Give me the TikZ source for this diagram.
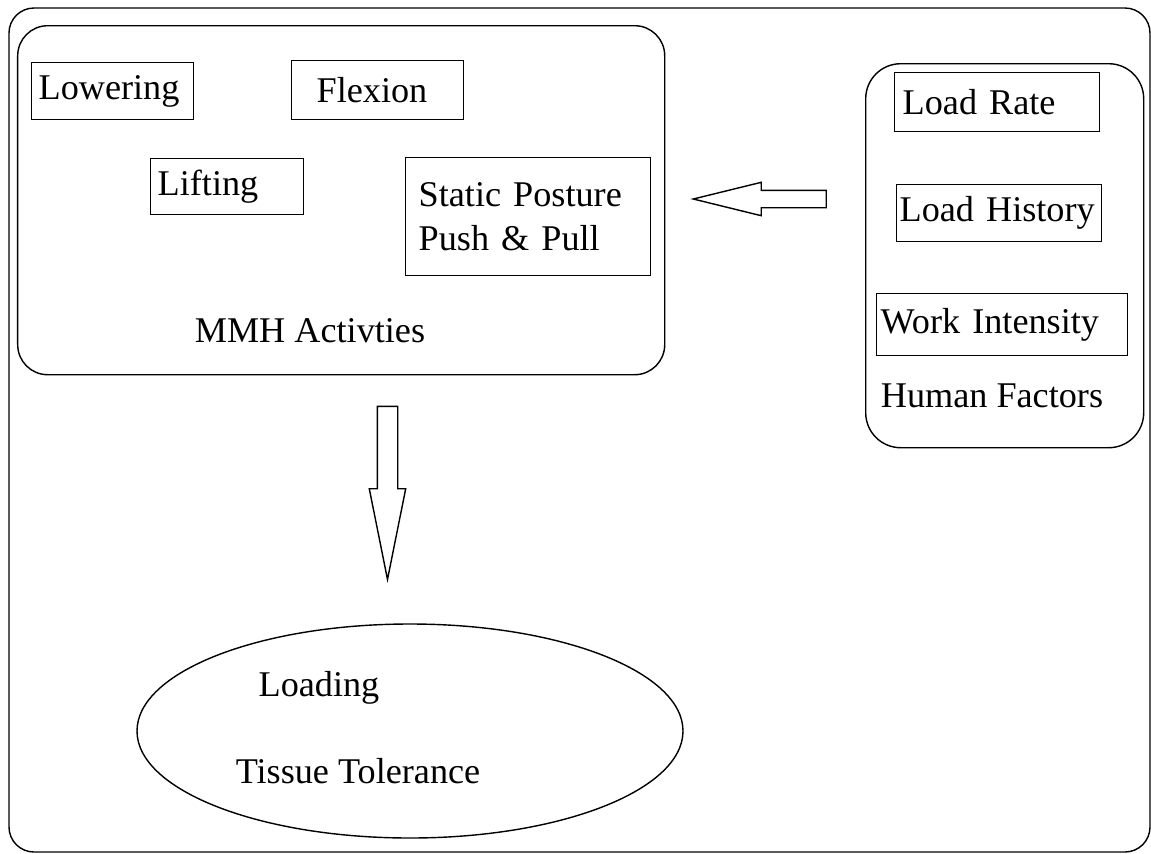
\documentclass[tikz,border=0pt]{standalone}
\usepackage{fontspec}
\setmainfont{Liberation Serif}
\usetikzlibrary{shapes,shapes.arrows,positioning}

\begin{document}
\begin{tikzpicture}[
  every node/.style={font=\fontsize{10.3}{12.4}\selectfont},
  box/.style={draw,rectangle,anchor=north west,align=left,inner ysep=0pt,minimum height=0.57cm},
  group/.style={draw,rectangle,anchor=north west},
  blockarrow/.style={draw,single arrow,single arrow head indent=0pt,single arrow head extend=0.08cm},
  ]
  \useasboundingbox (0,0) rectangle (11.51,-8.54);
  \draw[rounded corners=0.25cm] (0.09,-0.08) rectangle (11.50,-8.52);

  \node[group, rounded corners=0.3cm, minimum width=6.47cm, minimum height=3.49cm] (mmh) at (0.17,-0.25) {};
  \node[box, inner xsep=0.07cm, text width=1.48cm] (lower) at (0.31,-0.62) {Lowering};
  \node[box, inner xsep=0.25cm, text width=1.22cm, minimum height=0.59cm] (flex) at (2.91,-0.60) {Flexion};
  \node[box, inner xsep=0.07cm, text width=1.39cm, minimum height=0.56cm] (lift) at (1.50,-1.58) {Lifting};
  \node[box, inner xsep=0.13cm, text width=2.19cm, minimum height=1.18cm] (static) at (4.05,-1.57) {Static Posture\\Push \& Pull};
  \node (mmhlabel) at (3.10,-3.31) {MMH Activties};

  \node[group, rounded corners=0.35cm, minimum width=2.78cm, minimum height=3.84cm] (human) at (8.65,-0.63) {};
  \node[box, inner xsep=0.08cm, text width=1.89cm, minimum height=0.59cm] (rate) at (8.94,-0.72) {Load Rate};
  \node[box, inner xsep=0.03cm, text width=1.99cm] (history) at (8.96,-1.84) {Load History};
  \node[box, inner xsep=0.04cm, text width=2.43cm, minimum height=0.62cm] (intensity) at (8.76,-2.93) {Work Intensity};
  \node (hflabel) at (9.92,-3.96) {Human Factors};

  \node[blockarrow, shape border rotate=180, inner sep=0.08cm, minimum height=1.33cm, single arrow tip angle=27.6] (harrow) at (7.775,-1.99) {};
  \node[blockarrow, shape border rotate=270, inner sep=0.095cm, minimum height=1.73cm, single arrow tip angle=22.7] (varrow) at (3.875,-4.675) {};

  \node[draw, ellipse, minimum width=5.46cm, minimum height=2.14cm] (tissue) at (4.10,-7.31) {};
  \node (loading) at (3.19,-6.88) {Loading};
  \node (tolerance) at (3.58,-7.71) {Tissue Tolerance};
\end{tikzpicture}
\end{document}
